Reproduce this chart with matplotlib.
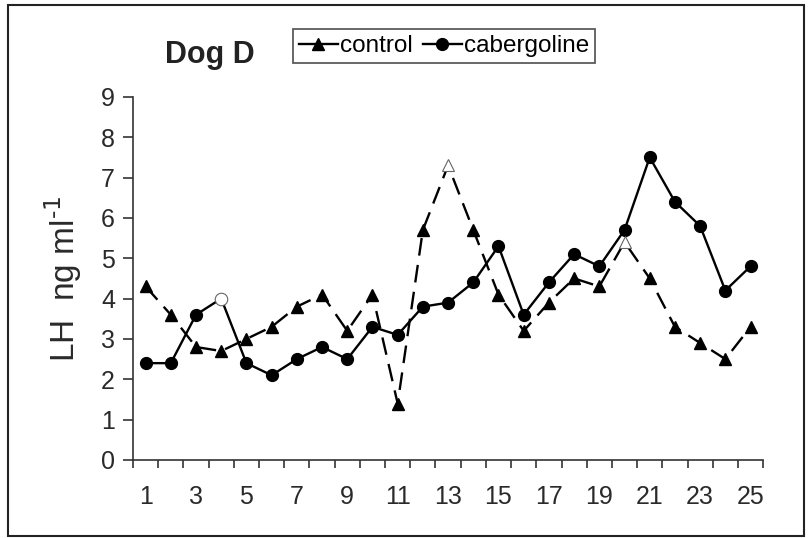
import matplotlib
matplotlib.use("Agg")
import matplotlib.pyplot as plt
from matplotlib.patches import Rectangle

plt.rcParams['font.family'] = ['Liberation Sans', 'DejaVu Sans']

days = list(range(1, 26))
control = [4.3, 3.6, 2.8, 2.7, 3.0, 3.3, 3.8, 4.1, 3.2, 4.1, 1.4, 5.7, 7.3,
           5.7, 4.1, 3.2, 3.9, 4.5, 4.3, 5.4, 4.5, 3.3, 2.9, 2.5, 3.3]
cabergoline = [2.4, 2.4, 3.6, 4.0, 2.4, 2.1, 2.5, 2.8, 2.5, 3.3, 3.1, 3.8, 3.9,
               4.4, 5.3, 3.6, 4.4, 5.1, 4.8, 5.7, 7.5, 6.4, 5.8, 4.2, 4.8]
control_open = [13, 20]
cabergoline_open = [4]
xtick_labels = [str(d) for d in range(1, 26, 2)]
yticks = list(range(0, 10))

fig = plt.figure(figsize=(8.11, 5.38), dpi=100)
fig.patches.append(Rectangle((8/811, 2/538), 796/811, 531/538, transform=fig.transFigure,
                             fill=False, edgecolor='#222222', linewidth=1.5))
ax = fig.add_axes([0.164, 0.145, 0.777, 0.675])

c_fill = [i for i, d in enumerate(days) if d not in control_open]
b_fill = [i for i, d in enumerate(days) if d not in cabergoline_open]

ax.plot(days, control, color='black', linestyle=(0, (7.5, 4)), linewidth=1.7,
        marker='^', markersize=8, markevery=c_fill, label='control', zorder=3)
ax.plot(days, cabergoline, color='black', linestyle='-', linewidth=1.7,
        marker='o', markersize=8.5, markevery=b_fill, label='cabergoline', zorder=3)
ax.plot([d for d in days if d in control_open],
        [v for d, v in zip(days, control) if d in control_open],
        linestyle='none', marker='^', markersize=9, markerfacecolor='white',
        markeredgecolor='#666666', markeredgewidth=0.8, zorder=4)
ax.plot([d for d in days if d in cabergoline_open],
        [v for d, v in zip(days, cabergoline) if d in cabergoline_open],
        linestyle='none', marker='o', markersize=9, markerfacecolor='white',
        markeredgecolor='#666666', markeredgewidth=0.8, zorder=4)

ax.set_xlim(0.5, 25.5)
ax.set_ylim(0, 9)
ax.spines['top'].set_visible(False)
ax.spines['right'].set_visible(False)
for s in ('left', 'bottom'):
    ax.spines[s].set_linewidth(1.2)
    ax.spines[s].set_color('#333333')

ax.set_yticks(yticks)
ax.set_yticklabels([str(y) for y in yticks], fontsize=18, color='#2a2a2a')
ax.set_xticks([x + 0.5 for x in range(0, 26)])
ax.set_xticklabels([])
ax.set_xticks(list(range(1, 26, 2)), minor=True)
ax.set_xticklabels(xtick_labels, minor=True, fontsize=18, color='#2a2a2a')
ax.tick_params(axis='x', which='major', direction='out', length=6, width=1.2, color='#333333')
ax.tick_params(axis='x', which='minor', length=0, pad=18)
ax.tick_params(axis='y', direction='out', length=7, width=1.2, color='#333333', pad=6)

ax.set_ylabel('LH  ng ml$^{\\text{-1}}$', fontsize=24, color='#2a2a2a', labelpad=12)

fig.text(0.203, 0.897, 'Dog D', fontsize=22, fontweight='bold', color='#222222',
         ha='left', va='center')

leg = fig.legend(loc='center', bbox_to_anchor=(0.5475, 0.914), ncol=2, fontsize=17.5,
                 frameon=True, fancybox=False, edgecolor='#333333', handlelength=1.6,
                 handletextpad=0.1, columnspacing=0.4, borderpad=0.25, borderaxespad=0)
leg.get_frame().set_linewidth(1.3)
for h in leg.legend_handles:
    h.set_linestyle('-')

fig.savefig('out.png', dpi=100)
